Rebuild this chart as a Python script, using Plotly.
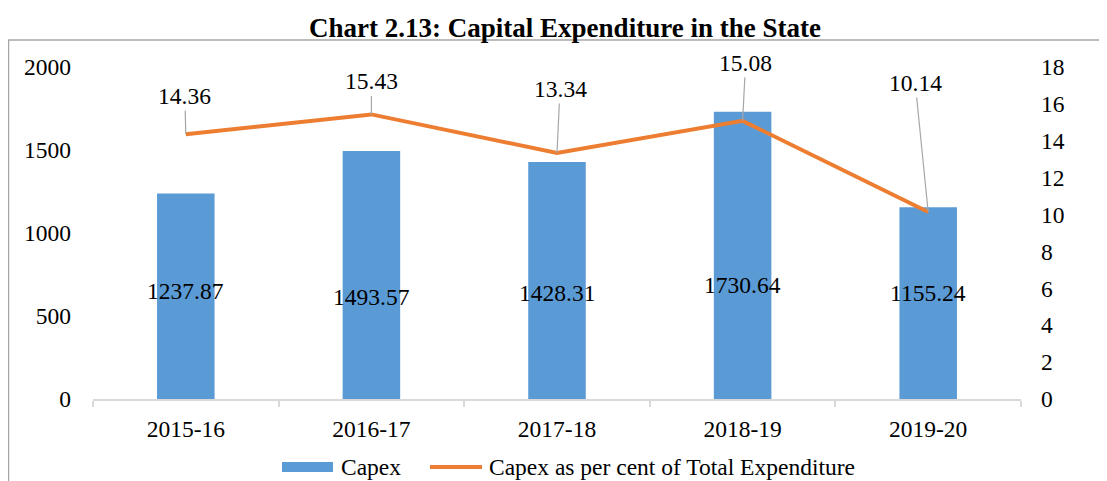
import plotly.graph_objects as go

years = ["2015-16", "2016-17", "2017-18", "2018-19", "2019-20"]
capex = [1237.87, 1493.57, 1428.31, 1730.64, 1155.24]
capex_pct = [14.36, 15.43, 13.34, 15.08, 10.14]
series_names = ["Capex", "Capex as per cent of Total Expenditure"]

# label placement (styling only)
bar_label_y = [650, 615, 640, 685, 640]
line_label_ax = [-1, 0, 3, 3, -13]
line_label_ay = [-38, -33, -64, -58, -129]

FONT = "Liberation Serif, Times New Roman, serif"
FS = 23.5
BLUE = "#5B9BD5"
ORANGE = "#ED7D31"

OFF = 8  # page body margin
# plot area in screen pixels
L, R, T, B = 93, 1021, 67, 399
W, H = 1107 - OFF, 481 - OFF


def px(x):
    return (x - L) / (R - L)


def py(y):
    return (B - y) / (B - T)


fig = go.Figure()
fig.add_trace(go.Bar(
    x=years, y=capex, name=series_names[0], marker=dict(color=BLUE, line=dict(width=0)),
    width=0.31, yaxis="y", showlegend=False,
))
fig.add_trace(go.Scatter(
    x=years, y=capex_pct, name=series_names[1],
    mode="lines", line=dict(color=ORANGE, width=4), yaxis="y2", showlegend=False,
))

annotations = []
for yr, v, ly in zip(years, capex, bar_label_y):
    annotations.append(dict(x=yr, y=ly, xref="x", yref="y", text=f"{v:.2f}",
                            showarrow=False, font=dict(family=FONT, size=FS, color="black")))
for yr, v, ax, ay in zip(years, capex_pct, line_label_ax, line_label_ay):
    annotations.append(dict(x=yr, y=v, xref="x", yref="y2", text=f"{v:.2f}",
                            showarrow=True, arrowhead=0, arrowwidth=1.2, arrowcolor="#a6a6a6",
                            ax=ax, ay=ay, standoff=0,
                            font=dict(family=FONT, size=FS, color="black")))

# custom legend
annotations.append(dict(x=px(339), y=py(467), xref="paper", yref="paper", xanchor="left",
                        yanchor="middle", text=series_names[0], showarrow=False,
                        font=dict(family=FONT, size=FS, color="black")))
annotations.append(dict(x=px(487), y=py(467), xref="paper", yref="paper", xanchor="left",
                        yanchor="middle", text=series_names[1], showarrow=False,
                        font=dict(family=FONT, size=FS, color="black")))

shapes = [
    dict(type="rect", xref="paper", yref="paper",
         x0=px(8.5), x1=1.3, y0=-0.5, y1=py(40),
         line=dict(color="#a6a6a6", width=1.5), layer="below"),
    dict(type="rect", xref="paper", yref="paper", x0=px(282), x1=px(333),
         y0=py(472), y1=py(462), fillcolor=BLUE, line=dict(width=0)),
    dict(type="line", xref="paper", yref="paper", x0=px(430), x1=px(482),
         y0=py(467), y1=py(467), line=dict(color=ORANGE, width=4)),
]

fig.update_layout(
    width=W, height=H,
    margin=dict(l=L - OFF, r=1107 - R, t=T - OFF, b=481 - B, autoexpand=False),
    paper_bgcolor="white", plot_bgcolor="white",
    font=dict(family=FONT, size=FS, color="black"),
    showlegend=False,
    title=dict(text="<b>Chart 2.13: Capital Expenditure in the State</b>",
               x=px(565), xref="paper", xanchor="center",
               y=1 - (28 - OFF) / H, yref="container", yanchor="middle",
               font=dict(family=FONT, size=27, color="black")),
    xaxis=dict(showgrid=False, showline=True, linecolor="#d9d9d9", linewidth=1.5,
               ticks="outside", tickson="boundaries", ticklen=6, tickcolor="#d9d9d9",
               tickwidth=1.5, ticklabelstandoff=8,
               tickfont=dict(family=FONT, size=FS, color="black")),
    yaxis=dict(range=[0, 2000], dtick=500, showgrid=False, showline=False, zeroline=False,
               ticklabelstandoff=21, tickfont=dict(family=FONT, size=FS, color="black")),
    yaxis2=dict(range=[0, 18], dtick=2, overlaying="y", side="right", showgrid=False,
                showline=False, zeroline=False, ticklabelstandoff=19,
                tickfont=dict(family=FONT, size=FS, color="black")),
    bargap=0.69,
    annotations=annotations,
    shapes=shapes,
)

fig.write_html("out.html")
